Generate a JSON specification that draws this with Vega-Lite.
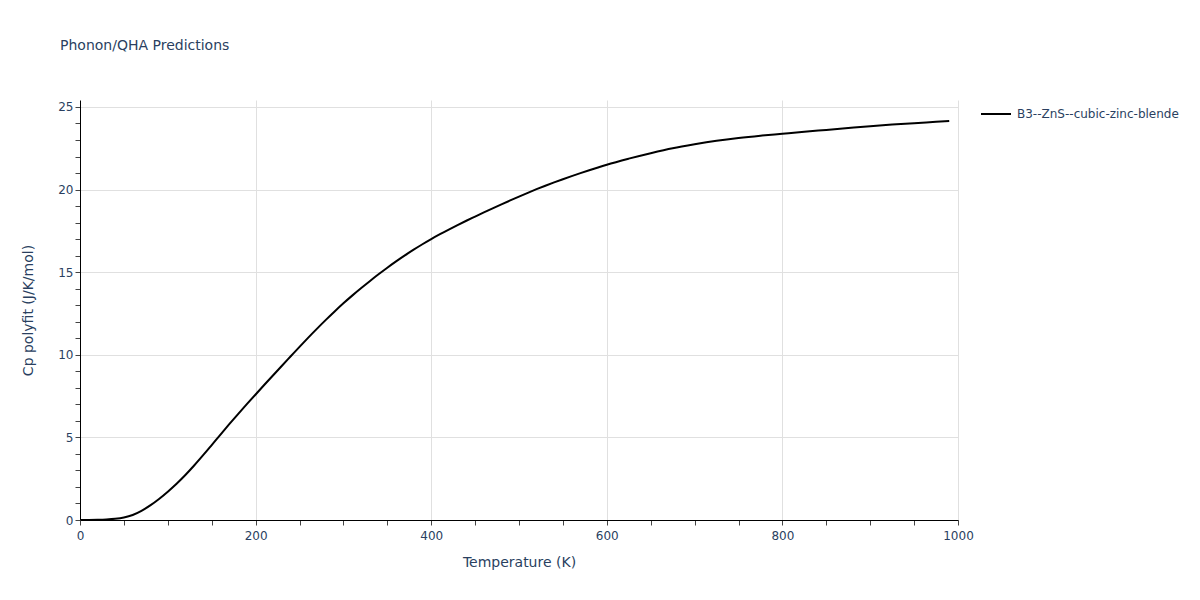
{
  "$schema": "https://vega.github.io/schema/vega-lite/v6.json",
  "width": 878,
  "height": 420,
  "autosize": {"type": "none"},
  "padding": {"left": 80, "top": 100, "right": 242, "bottom": 80},
  "background": "white",
  "title": {
    "text": "Phonon/QHA Predictions",
    "anchor": "start",
    "frame": "group",
    "dx": -20,
    "offset": 45,
    "fontSize": 14,
    "font": "DejaVu Sans",
    "fontWeight": "normal",
    "color": "#2a3f5f"
  },
  "data": {
    "values": [
      {"T": 0, "Cp": 0, "series": "B3--ZnS--cubic-zinc-blende"},
      {"T": 10, "Cp": 0.003, "series": "B3--ZnS--cubic-zinc-blende"},
      {"T": 20, "Cp": 0.013, "series": "B3--ZnS--cubic-zinc-blende"},
      {"T": 30, "Cp": 0.033, "series": "B3--ZnS--cubic-zinc-blende"},
      {"T": 40, "Cp": 0.073, "series": "B3--ZnS--cubic-zinc-blende"},
      {"T": 50, "Cp": 0.153, "series": "B3--ZnS--cubic-zinc-blende"},
      {"T": 60, "Cp": 0.303, "series": "B3--ZnS--cubic-zinc-blende"},
      {"T": 70, "Cp": 0.553, "series": "B3--ZnS--cubic-zinc-blende"},
      {"T": 80, "Cp": 0.883, "series": "B3--ZnS--cubic-zinc-blende"},
      {"T": 90, "Cp": 1.273, "series": "B3--ZnS--cubic-zinc-blende"},
      {"T": 100, "Cp": 1.713, "series": "B3--ZnS--cubic-zinc-blende"},
      {"T": 110, "Cp": 2.193, "series": "B3--ZnS--cubic-zinc-blende"},
      {"T": 120, "Cp": 2.723, "series": "B3--ZnS--cubic-zinc-blende"},
      {"T": 130, "Cp": 3.298, "series": "B3--ZnS--cubic-zinc-blende"},
      {"T": 140, "Cp": 3.908, "series": "B3--ZnS--cubic-zinc-blende"},
      {"T": 150, "Cp": 4.538, "series": "B3--ZnS--cubic-zinc-blende"},
      {"T": 160, "Cp": 5.173, "series": "B3--ZnS--cubic-zinc-blende"},
      {"T": 170, "Cp": 5.798, "series": "B3--ZnS--cubic-zinc-blende"},
      {"T": 180, "Cp": 6.408, "series": "B3--ZnS--cubic-zinc-blende"},
      {"T": 190, "Cp": 7.008, "series": "B3--ZnS--cubic-zinc-blende"},
      {"T": 200, "Cp": 7.598, "series": "B3--ZnS--cubic-zinc-blende"},
      {"T": 210, "Cp": 8.183, "series": "B3--ZnS--cubic-zinc-blende"},
      {"T": 220, "Cp": 8.763, "series": "B3--ZnS--cubic-zinc-blende"},
      {"T": 230, "Cp": 9.338, "series": "B3--ZnS--cubic-zinc-blende"},
      {"T": 240, "Cp": 9.908, "series": "B3--ZnS--cubic-zinc-blende"},
      {"T": 250, "Cp": 10.478, "series": "B3--ZnS--cubic-zinc-blende"},
      {"T": 260, "Cp": 11.038, "series": "B3--ZnS--cubic-zinc-blende"},
      {"T": 270, "Cp": 11.583, "series": "B3--ZnS--cubic-zinc-blende"},
      {"T": 280, "Cp": 12.113, "series": "B3--ZnS--cubic-zinc-blende"},
      {"T": 290, "Cp": 12.623, "series": "B3--ZnS--cubic-zinc-blende"},
      {"T": 300, "Cp": 13.115, "series": "B3--ZnS--cubic-zinc-blende"},
      {"T": 310, "Cp": 13.58, "series": "B3--ZnS--cubic-zinc-blende"},
      {"T": 320, "Cp": 14.025, "series": "B3--ZnS--cubic-zinc-blende"},
      {"T": 330, "Cp": 14.455, "series": "B3--ZnS--cubic-zinc-blende"},
      {"T": 340, "Cp": 14.87, "series": "B3--ZnS--cubic-zinc-blende"},
      {"T": 350, "Cp": 15.27, "series": "B3--ZnS--cubic-zinc-blende"},
      {"T": 360, "Cp": 15.65, "series": "B3--ZnS--cubic-zinc-blende"},
      {"T": 370, "Cp": 16.013, "series": "B3--ZnS--cubic-zinc-blende"},
      {"T": 380, "Cp": 16.359, "series": "B3--ZnS--cubic-zinc-blende"},
      {"T": 390, "Cp": 16.689, "series": "B3--ZnS--cubic-zinc-blende"},
      {"T": 400, "Cp": 17.001, "series": "B3--ZnS--cubic-zinc-blende"},
      {"T": 410, "Cp": 17.296, "series": "B3--ZnS--cubic-zinc-blende"},
      {"T": 420, "Cp": 17.579, "series": "B3--ZnS--cubic-zinc-blende"},
      {"T": 430, "Cp": 17.851, "series": "B3--ZnS--cubic-zinc-blende"},
      {"T": 440, "Cp": 18.113, "series": "B3--ZnS--cubic-zinc-blende"},
      {"T": 450, "Cp": 18.365, "series": "B3--ZnS--cubic-zinc-blende"},
      {"T": 460, "Cp": 18.615, "series": "B3--ZnS--cubic-zinc-blende"},
      {"T": 470, "Cp": 18.861, "series": "B3--ZnS--cubic-zinc-blende"},
      {"T": 480, "Cp": 19.103, "series": "B3--ZnS--cubic-zinc-blende"},
      {"T": 490, "Cp": 19.341, "series": "B3--ZnS--cubic-zinc-blende"},
      {"T": 500, "Cp": 19.575, "series": "B3--ZnS--cubic-zinc-blende"},
      {"T": 510, "Cp": 19.803, "series": "B3--ZnS--cubic-zinc-blende"},
      {"T": 520, "Cp": 20.022, "series": "B3--ZnS--cubic-zinc-blende"},
      {"T": 530, "Cp": 20.232, "series": "B3--ZnS--cubic-zinc-blende"},
      {"T": 540, "Cp": 20.433, "series": "B3--ZnS--cubic-zinc-blende"},
      {"T": 550, "Cp": 20.625, "series": "B3--ZnS--cubic-zinc-blende"},
      {"T": 560, "Cp": 20.811, "series": "B3--ZnS--cubic-zinc-blende"},
      {"T": 570, "Cp": 20.992, "series": "B3--ZnS--cubic-zinc-blende"},
      {"T": 580, "Cp": 21.168, "series": "B3--ZnS--cubic-zinc-blende"},
      {"T": 590, "Cp": 21.339, "series": "B3--ZnS--cubic-zinc-blende"},
      {"T": 600, "Cp": 21.505, "series": "B3--ZnS--cubic-zinc-blende"},
      {"T": 625, "Cp": 21.87, "series": "B3--ZnS--cubic-zinc-blende"},
      {"T": 650, "Cp": 22.2, "series": "B3--ZnS--cubic-zinc-blende"},
      {"T": 675, "Cp": 22.5, "series": "B3--ZnS--cubic-zinc-blende"},
      {"T": 700, "Cp": 22.74, "series": "B3--ZnS--cubic-zinc-blende"},
      {"T": 725, "Cp": 22.95, "series": "B3--ZnS--cubic-zinc-blende"},
      {"T": 750, "Cp": 23.12, "series": "B3--ZnS--cubic-zinc-blende"},
      {"T": 775, "Cp": 23.26, "series": "B3--ZnS--cubic-zinc-blende"},
      {"T": 800, "Cp": 23.38, "series": "B3--ZnS--cubic-zinc-blende"},
      {"T": 825, "Cp": 23.5, "series": "B3--ZnS--cubic-zinc-blende"},
      {"T": 850, "Cp": 23.61, "series": "B3--ZnS--cubic-zinc-blende"},
      {"T": 875, "Cp": 23.72, "series": "B3--ZnS--cubic-zinc-blende"},
      {"T": 900, "Cp": 23.83, "series": "B3--ZnS--cubic-zinc-blende"},
      {"T": 925, "Cp": 23.93, "series": "B3--ZnS--cubic-zinc-blende"},
      {"T": 950, "Cp": 24.02, "series": "B3--ZnS--cubic-zinc-blende"},
      {"T": 975, "Cp": 24.1, "series": "B3--ZnS--cubic-zinc-blende"},
      {"T": 990, "Cp": 24.15, "series": "B3--ZnS--cubic-zinc-blende"}
    ]
  },
  "mark": {"type": "line", "strokeWidth": 2, "interpolate": "monotone", "clip": true},
  "encoding": {
    "x": {
      "field": "T",
      "type": "quantitative",
      "scale": {"domain": [0, 1000], "nice": false, "zero": false},
      "axis": {
        "title": "Temperature (K)",
        "values": [0, 50, 100, 150, 200, 250, 300, 350, 400, 450, 500, 550, 600, 650, 700, 750, 800, 850, 900, 950, 1000],
        "format": "d",
        "labelExpr": "datum.value % 200 === 0 ? datum.label : ''",
        "gridOpacity": {"condition": {"test": "datum.value % 200 === 0 && datum.value > 0", "value": 1}, "value": 0},
        "labelFlush": false,
        "labelOverlap": false,
        "labelPadding": 5,
        "titlePadding": 14
      }
    },
    "y": {
      "field": "Cp",
      "type": "quantitative",
      "scale": {"domain": [0, 25.42], "nice": false, "zero": false},
      "axis": {
        "title": "Cp polyfit (J/K/mol)",
        "values": [0, 1, 2, 3, 4, 5, 6, 7, 8, 9, 10, 11, 12, 13, 14, 15, 16, 17, 18, 19, 20, 21, 22, 23, 24, 25],
        "format": "d",
        "labelExpr": "datum.value % 5 === 0 ? datum.label : ''",
        "gridOpacity": {"condition": {"test": "datum.value % 5 === 0 && datum.value > 0", "value": 1}, "value": 0},
        "labelFlush": false,
        "labelOverlap": false,
        "labelPadding": 2,
        "titlePadding": 22
      }
    },
    "color": {
      "field": "series",
      "type": "nominal",
      "scale": {"range": ["#000000"]},
      "legend": {
        "title": null,
        "orient": "none",
        "legendX": 900,
        "legendY": -2,
        "symbolType": "stroke",
        "symbolSize": 900,
        "symbolStrokeWidth": 2,
        "labelOffset": 5,
        "labelLimit": 400,
        "padding": 0,
        "labelFontSize": 12,
        "labelFont": "DejaVu Sans",
        "labelColor": "#2a3f5f"
      }
    }
  },
  "config": {
    "view": {"stroke": null},
    "axis": {
      "domainColor": "#000000",
      "domainWidth": 1,
      "tickColor": "#444444",
      "tickSize": 5,
      "tickWidth": 1,
      "gridColor": "#e0e0e0",
      "gridWidth": 1,
      "labelFont": "DejaVu Sans",
      "labelFontSize": 12,
      "labelColor": "#2a3f5f",
      "titleFont": "DejaVu Sans",
      "titleFontSize": 14,
      "titleFontWeight": "normal",
      "titleColor": "#2a3f5f"
    }
  }
}
